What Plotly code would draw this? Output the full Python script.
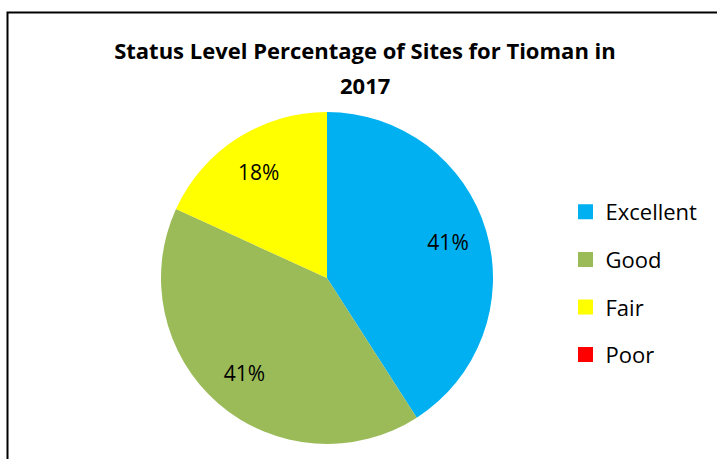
import plotly.graph_objects as go

categories = ["Excellent", "Good", "Fair", "Poor"]
site_counts = [9, 9, 4, 0]
colors = ["#00B0F0", "#9BBB59", "#FFFF00", "#FF0000"]
title_line1 = "Status Level Percentage of Sites for Tioman in"
title_line2 = "2017"

W, H = 717, 459
cx, cy, r = 327, 278, 166
dom_x = [(cx - r) / W, (cx + r) / W]
dom_y = [1 - (cy + r) / H, 1 - (cy - r) / H]

fig = go.Figure()

# Main coloured pie
fig.add_trace(go.Pie(
    labels=categories, values=site_counts, sort=False, direction="clockwise",
    rotation=0, marker=dict(colors=colors, line=dict(width=0)),
    textinfo="none", showlegend=False, hoverinfo="label+percent",
    domain=dict(x=dom_x, y=dom_y),
))

# Transparent overlay pie carrying the percentage labels (placed outward like Excel)
label_tpl = ["%{percent:.0%}" if v > 0 else "" for v in site_counts]
fig.add_trace(go.Pie(
    labels=categories, values=site_counts, sort=False, direction="clockwise",
    rotation=0, hole=0.52,
    marker=dict(colors=["rgba(0,0,0,0)"] * len(categories), line=dict(width=0)),
    texttemplate=label_tpl, textposition="inside",
    insidetextorientation="horizontal",
    insidetextfont=dict(family="Open Sans", size=21, color="black"),
    showlegend=False, hoverinfo="skip",
    domain=dict(x=dom_x, y=dom_y),
))

# Legend entries
for i, (name, col) in enumerate(zip(categories, colors)):
    fig.add_trace(go.Scatter(
        x=[None], y=[None], mode="markers", name=name, legendgroup=name,
        marker=dict(symbol="square", size=15, color=col, line=dict(width=0)),
    ))

fig.update_layout(
    width=W, height=H,
    margin=dict(l=0, r=0, t=0, b=0),
    paper_bgcolor="white", plot_bgcolor="white",
    xaxis=dict(visible=False), yaxis=dict(visible=False),
    title=dict(text=title_line1, x=0.509, xanchor="center", y=1 - 51 / H,
               yanchor="middle", yref="paper",
               font=dict(family="Open Sans", size=22, color="black", weight="bold")),
    annotations=[dict(text=title_line2, x=0.509, y=1 - 85 / H, xref="paper", yref="paper",
                      xanchor="center", yanchor="middle", showarrow=False,
                      font=dict(family="Open Sans", size=22, color="black", weight="bold"))],
    legend=dict(x=0.7887, xanchor="left", y=1 - 283.5 / H, yanchor="middle",
                traceorder="grouped", tracegroupgap=16,
                font=dict(family="Open Sans", size=22, color="black"),
                bgcolor="rgba(0,0,0,0)", itemclick=False, itemdoubleclick=False),
    shapes=[dict(type="rect", xref="paper", yref="paper",
                 x0=7.5 / W, x1=1.05, y0=-0.05, y1=1 - 12.5 / H,
                 line=dict(color="black", width=2), layer="above")],
    showlegend=True,
)

fig.write_html("out.html", config={"displayModeBar": False},
               post_script="document.body.style.margin='0px';")
